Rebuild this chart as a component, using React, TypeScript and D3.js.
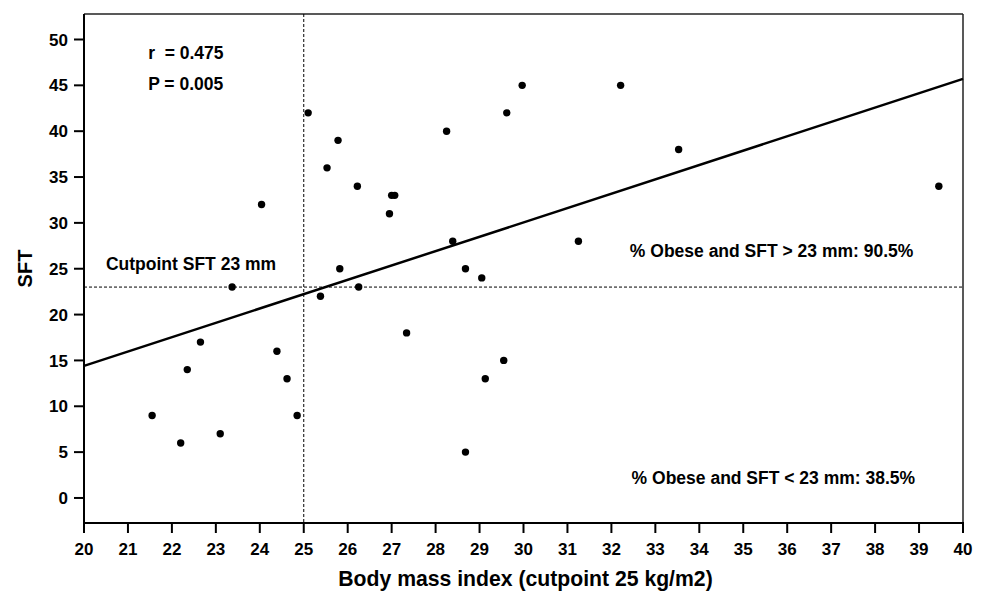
import React from 'react'
import * as d3 from 'd3'

// BMI (x) and SFT (y) for each subject
const bmiValues = [
  21.55, 22.2, 23.1, 24.85, 25.53, 26.22, 24.04, 25.82, 23.37, 26.25, 25.38, 22.65, 24.39, 22.35,
  24.62, 29.97, 32.21, 29.62, 28.25, 33.53, 27.0, 27.07, 26.95, 28.39, 31.25, 28.68, 29.05, 27.34,
  29.55, 29.13, 28.68, 25.1, 25.78, 39.45,
]
const sftValues = [
  9, 6, 7, 9, 36, 34, 32, 25, 23, 23, 22, 17, 16, 14, 13, 45, 45, 42, 40, 38, 33, 33, 31, 28, 28, 25,
  24, 18, 15, 13, 5, 42, 39, 34,
]

// regression line endpoints (x, fitted y)
const fitX = [20, 40]
const fitY = [14.4, 45.7]

const xTicks = d3.range(20, 41, 1)
const yTicks = [0, 5, 10, 15, 20, 25, 30, 35, 40, 45, 50]

const cutBmi = 25
const cutSft = 23

// annotation anchors in data units (start of text, baseline)
const annotations = [
  { text: 'r  = 0.475', x: 21.46, y: 47.9 },
  { text: 'P = 0.005', x: 21.46, y: 44.5 },
  { text: 'Cutpoint SFT 23 mm', x: 20.5, y: 24.9 },
  { text: '% Obese and SFT > 23 mm: 90.5%', x: 32.42, y: 26.3 },
  { text: '% Obese and SFT < 23 mm: 38.5%', x: 32.46, y: 1.57 },
]

const width = 988
const height = 592
const margin = { top: 14, right: 25, bottom: 69, left: 84 }

const font = {
  fontFamily: '"Liberation Sans", Arial, Helvetica, sans-serif',
  fontWeight: 'bold' as const,
}

export default function App() {
  const x = d3
    .scaleLinear()
    .domain([20, 40])
    .range([margin.left, width - margin.right])
  const y = d3
    .scaleLinear()
    .domain([-2.73, 52.78])
    .range([height - margin.bottom, margin.top])

  const x0 = x.range()[0]
  const x1 = x.range()[1]
  const y0 = y.range()[0]
  const y1 = y.range()[1]

  const fitLine = d3.line<number>()((fitX.map((d, i) => [x(d), y(fitY[i])]) as any)) as string

  return (
    <div style={{ position: 'absolute', left: 0, top: 0 }}>
      <svg width={width} height={height} style={{ display: 'block', background: 'white' }}>
        {/* frame top and right */}
        <line x1={x0} x2={x1} y1={y1} y2={y1} stroke="#222" strokeWidth={1.5} />
        <line x1={x1} x2={x1} y1={y1} y2={y0} stroke="#222" strokeWidth={1.5} />

        {/* cutpoint lines */}
        <line
          x1={x(cutBmi)}
          x2={x(cutBmi)}
          y1={y1}
          y2={y0}
          stroke="black"
          strokeWidth={1}
          strokeDasharray="3,2"
        />
        <line
          x1={x0}
          x2={x1}
          y1={y(cutSft)}
          y2={y(cutSft)}
          stroke="black"
          strokeWidth={1}
          strokeDasharray="3,2"
        />

        {/* regression line */}
        <path d={fitLine} fill="none" stroke="black" strokeWidth={2.5} />

        {/* points */}
        {bmiValues.map((d, i) => (
          <circle key={'pt-' + i} cx={x(d)} cy={y(sftValues[i])} r={3.7} fill="black" />
        ))}

        {/* axes */}
        <line x1={x0} x2={x0} y1={y1} y2={y0 + 1} stroke="black" strokeWidth={2} />
        <line x1={x0 - 1} x2={x1 + 1} y1={y0} y2={y0} stroke="black" strokeWidth={2} />

        {yTicks.map((t) => (
          <g key={'yt-' + t}>
            <line x1={x0 - 10} x2={x0} y1={y(t)} y2={y(t)} stroke="black" strokeWidth={2} />
            <text
              x={x0 - 16}
              y={y(t)}
              dy="0.36em"
              textAnchor="end"
              style={{ ...font, fontSize: '17px' }}
            >
              {t}
            </text>
          </g>
        ))}

        {xTicks.map((t) => (
          <g key={'xt-' + t}>
            <line x1={x(t)} x2={x(t)} y1={y0} y2={y0 + 10} stroke="black" strokeWidth={2} />
            <text x={x(t)} y={y0 + 32} textAnchor="middle" style={{ ...font, fontSize: '17px' }}>
              {t}
            </text>
          </g>
        ))}

        <text
          x={(x0 + x1) / 2 + 2}
          y={585.5}
          textAnchor="middle"
          style={{ ...font, fontSize: '21.2px' }}
        >
          Body mass index (cutpoint 25 kg/m2)
        </text>
        <text
          transform={`translate(31.5, ${(y0 + y1) / 2}) rotate(-90)`}
          textAnchor="middle"
          style={{ ...font, fontSize: '20px' }}
        >
          SFT
        </text>

        {annotations.map((a) => (
          <text
            key={a.text}
            x={x(a.x)}
            y={y(a.y)}
            style={{ ...font, fontSize: '17.5px', whiteSpace: 'pre' }}
          >
            {a.text}
          </text>
        ))}
      </svg>
    </div>
  )
}
